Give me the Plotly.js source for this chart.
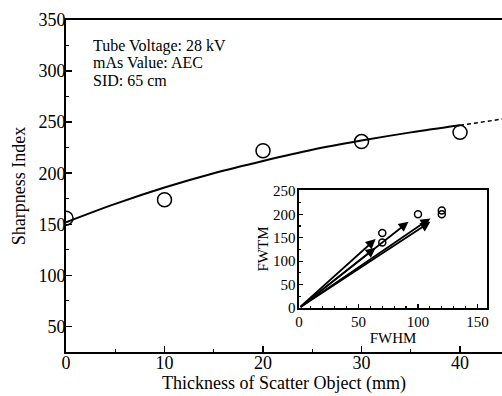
<!DOCTYPE html>
<html><head><meta charset="utf-8">
<script src="https://cdn.plot.ly/plotly-3.0.1.min.js"></script>
<style>html,body{margin:0;padding:0;background:#fff}#chart{width:502px;height:396px}</style>
</head><body><div id="chart"></div>
<script>
// Main chart data
var thickness = [0, 10, 20, 30, 40];
var sharpness = [156, 174, 222, 231, 240];
// fitted curve
var fitX = [0, 5, 10, 15, 20, 25, 30, 35, 40];
var fitY = [152, 170, 186, 200, 212, 223, 232, 240, 247];
var extX = [40, 45];
var extY = [247, 254];
// inset data
var fwhm = [70, 70, 100, 120, 120];
var fwtm = [160, 140, 200, 208, 200];
var annoLines = ["Tube Voltage: 28 kV", "mAs Value: AEC", "SID: 65 cm"];

var serif = "Liberation Serif, Times New Roman, serif";
var traces = [
  {x: fitX, y: fitY, mode: "lines", line: {color: "#000", width: 2, shape: "spline"}, xaxis: "x", yaxis: "y", hoverinfo: "none"},
  {x: extX, y: extY, mode: "lines", line: {color: "#000", width: 1.5, dash: "4px,3px"}, xaxis: "x", yaxis: "y", hoverinfo: "none"},
  {x: thickness, y: sharpness, mode: "markers", marker: {symbol: "circle-open", size: 14, color: "#000", line: {width: 1.5, color: "#000"}}, xaxis: "x", yaxis: "y"},
  {x: fwhm, y: fwtm, mode: "markers", marker: {symbol: "circle-open", size: 7, color: "#000", line: {width: 1.5, color: "#000"}}, xaxis: "x2", yaxis: "y2"}
];

var annotations = [];
annoLines.forEach(function (t, i) {
  annotations.push({text: t, xref: "paper", yref: "paper", x: (91 - 66) / 436, y: (352 - (46 + i * 17)) / 332,
    xanchor: "left", yanchor: "middle", showarrow: false, font: {family: serif, size: 16, color: "#000"}});
});
var frac = 0.92;
for (var i = 0; i < fwhm.length; i++) {
  annotations.push({xref: "x2", yref: "y2", axref: "x2", ayref: "y2", x: fwhm[i] * frac, y: fwtm[i] * frac, ax: 0, ay: 0,
    showarrow: true, arrowhead: 2, arrowsize: 1.1, arrowwidth: 1.8, arrowcolor: "#000", text: ""});
}

var layout = {
  width: 502, height: 396,
  margin: {l: 66, r: 0, t: 20, b: 44},
  paper_bgcolor: "#fff", plot_bgcolor: "rgba(0,0,0,0)",
  showlegend: false,
  font: {family: serif, color: "#000"},
  xaxis: {domain: [0, 1], range: [0, 44.26], showgrid: false, zeroline: false, showline: true, mirror: true, linecolor: "#000", linewidth: 2,
    ticks: "inside", ticklen: 6, tickwidth: 1.5, tickcolor: "#000", dtick: 10, tick0: 0, ticklabelstandoff: -7,
    minor: {ticks: "inside", ticklen: 3, dtick: 5, tickcolor: "#000", tickwidth: 1},
    tickfont: {family: serif, size: 18, color: "#000"},
    title: {text: "Thickness of Scatter Object (mm)", font: {family: serif, size: 18, color: "#000"}, standoff: 5}},
  yaxis: {domain: [0, 1], range: [25, 350], showgrid: false, zeroline: false, showline: true, linecolor: "#000", linewidth: 2,
    ticks: "inside", ticklen: 6, tickwidth: 1.5, tickcolor: "#000", dtick: 50, tick0: 0, ticklabelstandoff: -5,
    minor: {ticks: "inside", ticklen: 3, dtick: 25, tickcolor: "#000", tickwidth: 1},
    tickfont: {family: serif, size: 18, color: "#000"},
    title: {text: "Sharpness Index", font: {family: serif, size: 18, color: "#000"}, standoff: 8}},
  xaxis2: {domain: [0.5344, 0.9656], anchor: "y2", range: [0, 158], showgrid: false, zeroline: false, showline: true, mirror: true,
    linecolor: "#000", linewidth: 1.5, ticks: "inside", ticklen: 4, tickwidth: 1.2, tickcolor: "#000", dtick: 50, tick0: 0, ticklabelstandoff: -1,
    minor: {ticks: "inside", ticklen: 2, dtick: 10, tickcolor: "#000"},
    tickfont: {family: serif, size: 15, color: "#000"},
    title: {text: "FWHM", font: {family: serif, size: 15, color: "#000"}, standoff: 0}},
  yaxis2: {domain: [0.1325, 0.488], anchor: "x2", range: [0, 252], showgrid: false, zeroline: false, showline: true, mirror: true,
    linecolor: "#000", linewidth: 1.5, ticks: "inside", ticklen: 4, tickwidth: 1.2, tickcolor: "#000", dtick: 50, tick0: 0, ticklabelstandoff: -1,
    minor: {ticks: "inside", ticklen: 2, dtick: 25, tickcolor: "#000"},
    tickfont: {family: serif, size: 15, color: "#000"},
    title: {text: "FWTM", font: {family: serif, size: 15, color: "#000"}, standoff: 0}},
  annotations: annotations,
  shapes: [{type: "rect", xref: "x2 domain", yref: "y2 domain", x0: 0, x1: 1, y0: 0, y1: 1, fillcolor: "#fff", line: {width: 0}, layer: "below"}]
};
Plotly.newPlot("chart", traces, layout, {displayModeBar: false, staticPlot: true});
</script></body></html>
